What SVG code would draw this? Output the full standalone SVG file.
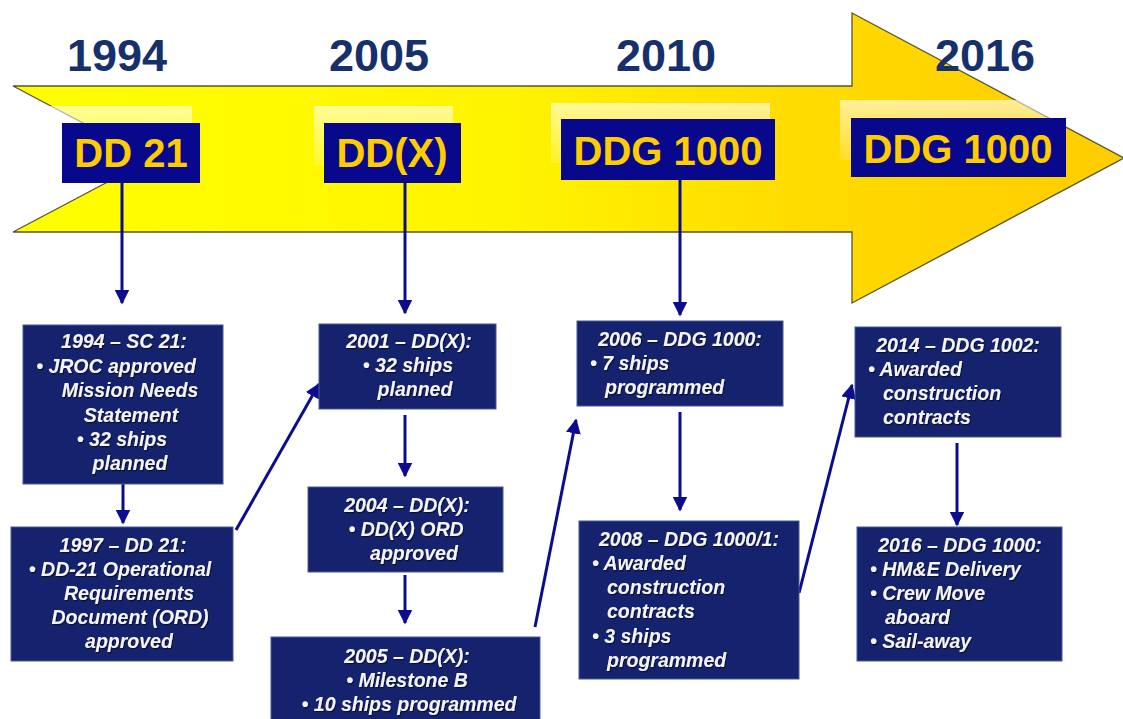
<svg xmlns="http://www.w3.org/2000/svg" width="1123" height="719" viewBox="0 0 1123 719">
<defs>
<linearGradient id="arrowGrad" gradientUnits="userSpaceOnUse" x1="0" y1="0" x2="1123" y2="0">
<stop offset="0" stop-color="#ffff00"/>
<stop offset="0.45" stop-color="#fff400"/>
<stop offset="0.7" stop-color="#ffdc00"/>
<stop offset="1" stop-color="#ffcc00"/>
</linearGradient>
<linearGradient id="glow" x1="0" y1="0" x2="0" y2="1">
<stop offset="0" stop-color="#ffffff" stop-opacity="0.6"/>
<stop offset="1" stop-color="#ffffff" stop-opacity="0.15"/>
</linearGradient>
<marker id="ah" viewBox="0 0 10 10" refX="9" refY="5" markerWidth="5" markerHeight="5" markerUnits="strokeWidth" orient="auto">
<path d="M0,0 L10,5 L0,10 z" fill="#0c0c8e"/>
</marker>
<filter id="ts" x="-10%" y="-10%" width="120%" height="130%">
<feDropShadow dx="1" dy="1.2" stdDeviation="0.6" flood-color="#000000" flood-opacity="0.6"/>
</filter>
</defs>
<style>
.year{font-family:"Liberation Sans",Arial,sans-serif;font-weight:bold;font-size:45px;fill:#16306b;text-anchor:middle}
.tbox{fill:#08088c}
.ttxt{font-family:"Liberation Sans",Arial,sans-serif;font-weight:bold;font-size:40px;fill:#ffcc00;text-anchor:middle}
.box{fill:#15226e;stroke:#4a5896;stroke-width:1}
.bt{font-family:"Liberation Sans",Arial,sans-serif;font-weight:bold;font-style:italic;font-size:19.5px;fill:#f4f4f4;filter:url(#ts)}
.c{text-anchor:middle}
.conn{stroke:#0c0c8e;stroke-width:3;fill:none;marker-end:url(#ah)}
</style>
<rect width="1123" height="719" fill="#ffffff"/>

<g id="timeline-arrow">
<polygon points="13,86 852,86 852,13 1124,158 852,303 852,232 13,232 151,159" fill="url(#arrowGrad)" stroke="#55543a" stroke-width="1.3"/>
</g>

<g id="years">
<text class="year" x="117" y="71">1994</text>
<text class="year" x="379" y="71">2005</text>
<text class="year" x="666" y="71">2010</text>
<text class="year" x="985" y="71">2016</text>
</g>

<g id="top-dd21">
<rect x="50" y="106" width="142" height="60" fill="url(#glow)"/>
<rect class="tbox" x="62" y="123" width="138" height="60"/>
<text class="ttxt" x="131" y="167">DD 21</text>
</g>
<g id="top-ddx">
<rect x="314" y="106" width="139" height="60" fill="url(#glow)"/>
<rect class="tbox" x="324" y="123" width="137" height="60"/>
<text class="ttxt" x="392" y="167">DD(X)</text>
</g>
<g id="top-ddg1000-2010">
<rect x="551" y="103" width="219" height="60" fill="url(#glow)"/>
<rect class="tbox" x="561" y="119" width="214" height="61"/>
<text class="ttxt" x="668" y="165">DDG 1000</text>
</g>
<g id="top-ddg1000-2016">
<rect x="840" y="100" width="218" height="60" fill="url(#glow)"/>
<rect class="tbox" x="851" y="118" width="215" height="59"/>
<text class="ttxt" x="958" y="163">DDG 1000</text>
</g>

<g id="connectors">
<line class="conn" x1="122" y1="183" x2="122" y2="303"/>
<line class="conn" x1="405" y1="183" x2="405" y2="313"/>
<line class="conn" x1="680" y1="180" x2="680" y2="315"/>
<line class="conn" x1="123" y1="484" x2="123" y2="523"/>
<line class="conn" x1="236" y1="530" x2="319" y2="384"/>
<line class="conn" x1="405" y1="415" x2="405" y2="476"/>
<line class="conn" x1="405" y1="575" x2="405" y2="623"/>
<line class="conn" x1="535" y1="627" x2="576" y2="420"/>
<line class="conn" x1="680" y1="412" x2="680" y2="510"/>
<line class="conn" x1="799" y1="593" x2="852" y2="385"/>
<line class="conn" x1="957" y1="443" x2="957" y2="525"/>
</g>

<g id="box-1994">
<rect class="box" x="23" y="325" width="200" height="159"/>
<text class="bt c" x="124" y="348">1994 – SC 21:</text>
<text class="bt c" x="116" y="373">• JROC approved</text>
<text class="bt c" x="130" y="397">Mission Needs</text>
<text class="bt c" x="131" y="422">Statement</text>
<text class="bt c" x="122" y="446">• 32 ships</text>
<text class="bt c" x="130" y="470">planned</text>
</g>

<g id="box-1997">
<rect class="box" x="11" y="527" width="222" height="134"/>
<text class="bt c" x="123" y="552">1997 – DD 21:</text>
<text class="bt c" x="120" y="576">• DD-21 Operational</text>
<text class="bt c" x="129" y="600">Requirements</text>
<text class="bt c" x="130" y="624">Document (ORD)</text>
<text class="bt c" x="129" y="648">approved</text>
</g>

<g id="box-2001">
<rect class="box" x="319" y="324" width="177" height="85"/>
<text class="bt c" x="409" y="348">2001 – DD(X):</text>
<text class="bt c" x="408" y="372">• 32 ships</text>
<text class="bt c" x="415" y="396">planned</text>
</g>

<g id="box-2004">
<rect class="box" x="308" y="487" width="195" height="85"/>
<text class="bt c" x="407" y="512">2004 – DD(X):</text>
<text class="bt c" x="406" y="536">• DD(X) ORD</text>
<text class="bt c" x="414" y="560">approved</text>
</g>

<g id="box-2005">
<rect class="box" x="271" y="637" width="269" height="90"/>
<text class="bt c" x="407" y="663">2005 – DD(X):</text>
<text class="bt c" x="407" y="687">• Milestone B</text>
<text class="bt c" x="409" y="711">• 10 ships programmed</text>
</g>

<g id="box-2006">
<rect class="box" x="577" y="321" width="206" height="85"/>
<text class="bt c" x="680" y="346">2006 – DDG 1000:</text>
<text class="bt" x="590" y="370">• 7 ships</text>
<text class="bt" x="605" y="394">programmed</text>
</g>

<g id="box-2008">
<rect class="box" x="579" y="521" width="220" height="158"/>
<text class="bt c" x="689" y="546">2008 – DDG 1000/1:</text>
<text class="bt" x="592" y="570">• Awarded</text>
<text class="bt" x="607" y="594">construction</text>
<text class="bt" x="607" y="618">contracts</text>
<text class="bt" x="592" y="643">• 3 ships</text>
<text class="bt" x="607" y="667">programmed</text>
</g>

<g id="box-2014">
<rect class="box" x="855" y="327" width="206" height="110"/>
<text class="bt c" x="958" y="352">2014 – DDG 1002:</text>
<text class="bt" x="868" y="376">• Awarded</text>
<text class="bt" x="883" y="400">construction</text>
<text class="bt" x="883" y="424">contracts</text>
</g>

<g id="box-2016">
<rect class="box" x="857" y="527" width="205" height="134"/>
<text class="bt c" x="960" y="552">2016 – DDG 1000:</text>
<text class="bt" x="870" y="576">• HM&amp;E Delivery</text>
<text class="bt" x="870" y="600">• Crew Move</text>
<text class="bt" x="885" y="624">aboard</text>
<text class="bt" x="870" y="648">• Sail-away</text>
</g>
</svg>
